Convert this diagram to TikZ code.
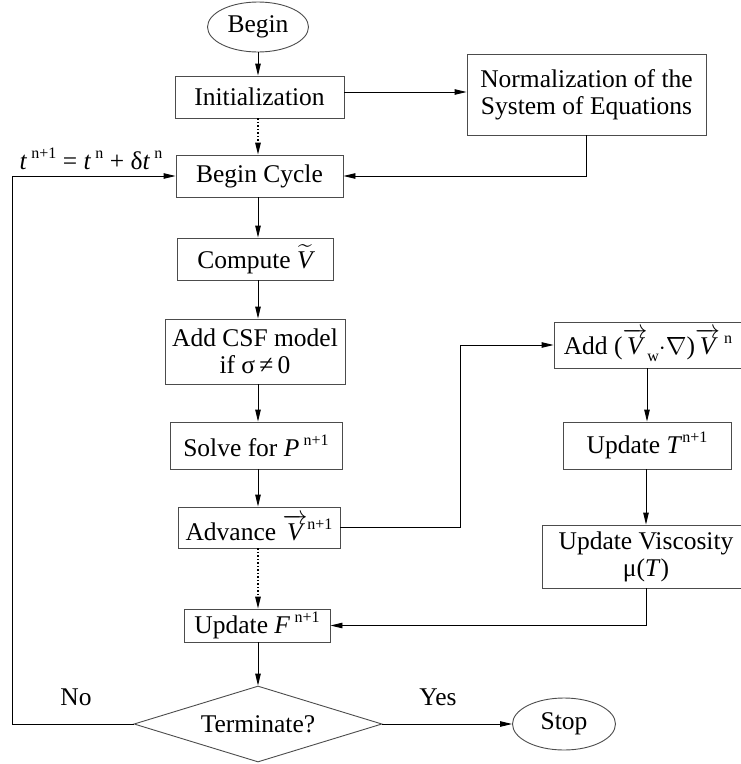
\documentclass[tikz,border=0pt]{standalone}
\usepackage{amsmath}
\usepackage{fontspec}
\setmainfont{Liberation Serif}
\usetikzlibrary{shapes.geometric,arrows.meta}
\newcommand\sups[1]{\raisebox{0.42em}{\fontsize{16}{16}\selectfont #1}}
\newcommand\subs[1]{\raisebox{-0.3em}{\fontsize{16}{16}\selectfont #1}}
\newcommand\vecV{$\overrightarrow{\textit{V}}$}
\tikzset{
  base/.style={font=\fontsize{25.5}{27}\selectfont, inner sep=0pt, align=center},
  box/.style={base, draw=black!70, line width=0.9pt, rectangle},
  oval/.style={base, draw=black!70, line width=0.9pt, ellipse},
  dia/.style={base, draw=black!70, line width=0.9pt, diamond, aspect=3.26},
  lbl/.style={base},
  arr/.style={line width=0.9pt, -{Triangle[length=12pt,width=5.5pt]}},
  dotarr/.style={arr, line width=1.3pt, dash pattern=on 1.3pt off 2.2pt},
}
\begin{document}
\begin{tikzpicture}[x=1pt,y=-1pt]
\useasboundingbox (0,0) rectangle (740,764);
\coordinate (col) at (258,0);
\coordinate (turn) at (460,400);
\coordinate (left) at (12,400);

\node[oval, minimum width=101, minimum height=50] (begin) at (258,27) {Begin};
\node[box, minimum width=169, minimum height=42] (init) at (259.5,97) {Initialization};
\node[box, minimum width=239, minimum height=81] (norm) at (586.5,94.5) {Normalization of the\\System of Equations};
\node[box, minimum width=167, minimum height=42] (cycle) at (259.5,176) {Begin Cycle};
\node[box, minimum width=156, minimum height=42] (compute) at (255,259) {Compute $\widetilde{\textit{V}}$};
\node[box, minimum width=180, minimum height=65] (csf) at (255,351.5) {Add CSF model\\if σ\,≠\,0};
\node[box, minimum width=172, minimum height=47] (solve) at (256,445.5) {Solve for \textit{P}\,\sups{n+1}};
\node[box, minimum width=162, minimum height=41] (advance) at (259,527.5) {Advance \vecV\sups{n+1}};
\node[box, minimum width=188, minimum height=46] (addv) at (648,345) {Add (\vecV\subs{w}$\cdot\nabla$)\vecV\,\sups{n}};
\node[box, minimum width=168, minimum height=47] (updT) at (647,445.5) {Update \textit{T}\sups{n+1}};
\node[box, minimum width=208, minimum height=63] (visc) at (646,556.5) {Update Viscosity\\μ(\textit{T})};
\node[box, minimum width=146, minimum height=33] (updF) at (257,625.5) {Update \textit{F}\,\sups{n+1}};
\node[dia, minimum width=248, minimum height=76] (term) at (258,724) {Terminate?};
\node[oval, minimum width=103, minimum height=52] (stop) at (564,724) {Stop};

\node[lbl] (nolbl) at (76,697) {No};
\node[lbl] (yeslbl) at (438,697) {Yes};
\node[lbl] (formula) at (91,159) {\textit{t}\,\sups{n+1} = \textit{t}\,\sups{n} + δ\textit{t}\,\sups{n}};

\draw[arr] (begin.south -| col) -- (init.north -| col);
\draw[dotarr] (init.south -| col) -- (cycle.north -| col);
\draw[arr] ([yshift=5pt]init.east) -- ([yshift=5pt]init.east -| norm.west);
\draw[arr] (norm.south) |- (cycle.east);
\draw[arr] (cycle.south -| col) -- (compute.north -| col);
\draw[arr] (compute.south -| col) -- (csf.north -| col);
\draw[arr] (csf.south -| col) -- (solve.north -| col);
\draw[arr] (solve.south -| col) -- (advance.north -| col);
\draw[arr] (advance.east) -- (advance.east -| turn) |- (addv.west);
\draw[dotarr] (advance.south -| col) -- (updF.north -| col);
\draw[arr] (addv.south -| updT) -- (updT.north);
\draw[arr] (updT.south -| visc) -- (visc.north);
\draw[arr] (visc.south) |- (updF.east);
\draw[arr] (updF.south -| col) -- (term.north -| col);
\draw[arr] (term.east) -- (stop.west);
\draw[arr] (term.west) -- (term.west -| left) |- (cycle.west);
\end{tikzpicture}
\end{document}
